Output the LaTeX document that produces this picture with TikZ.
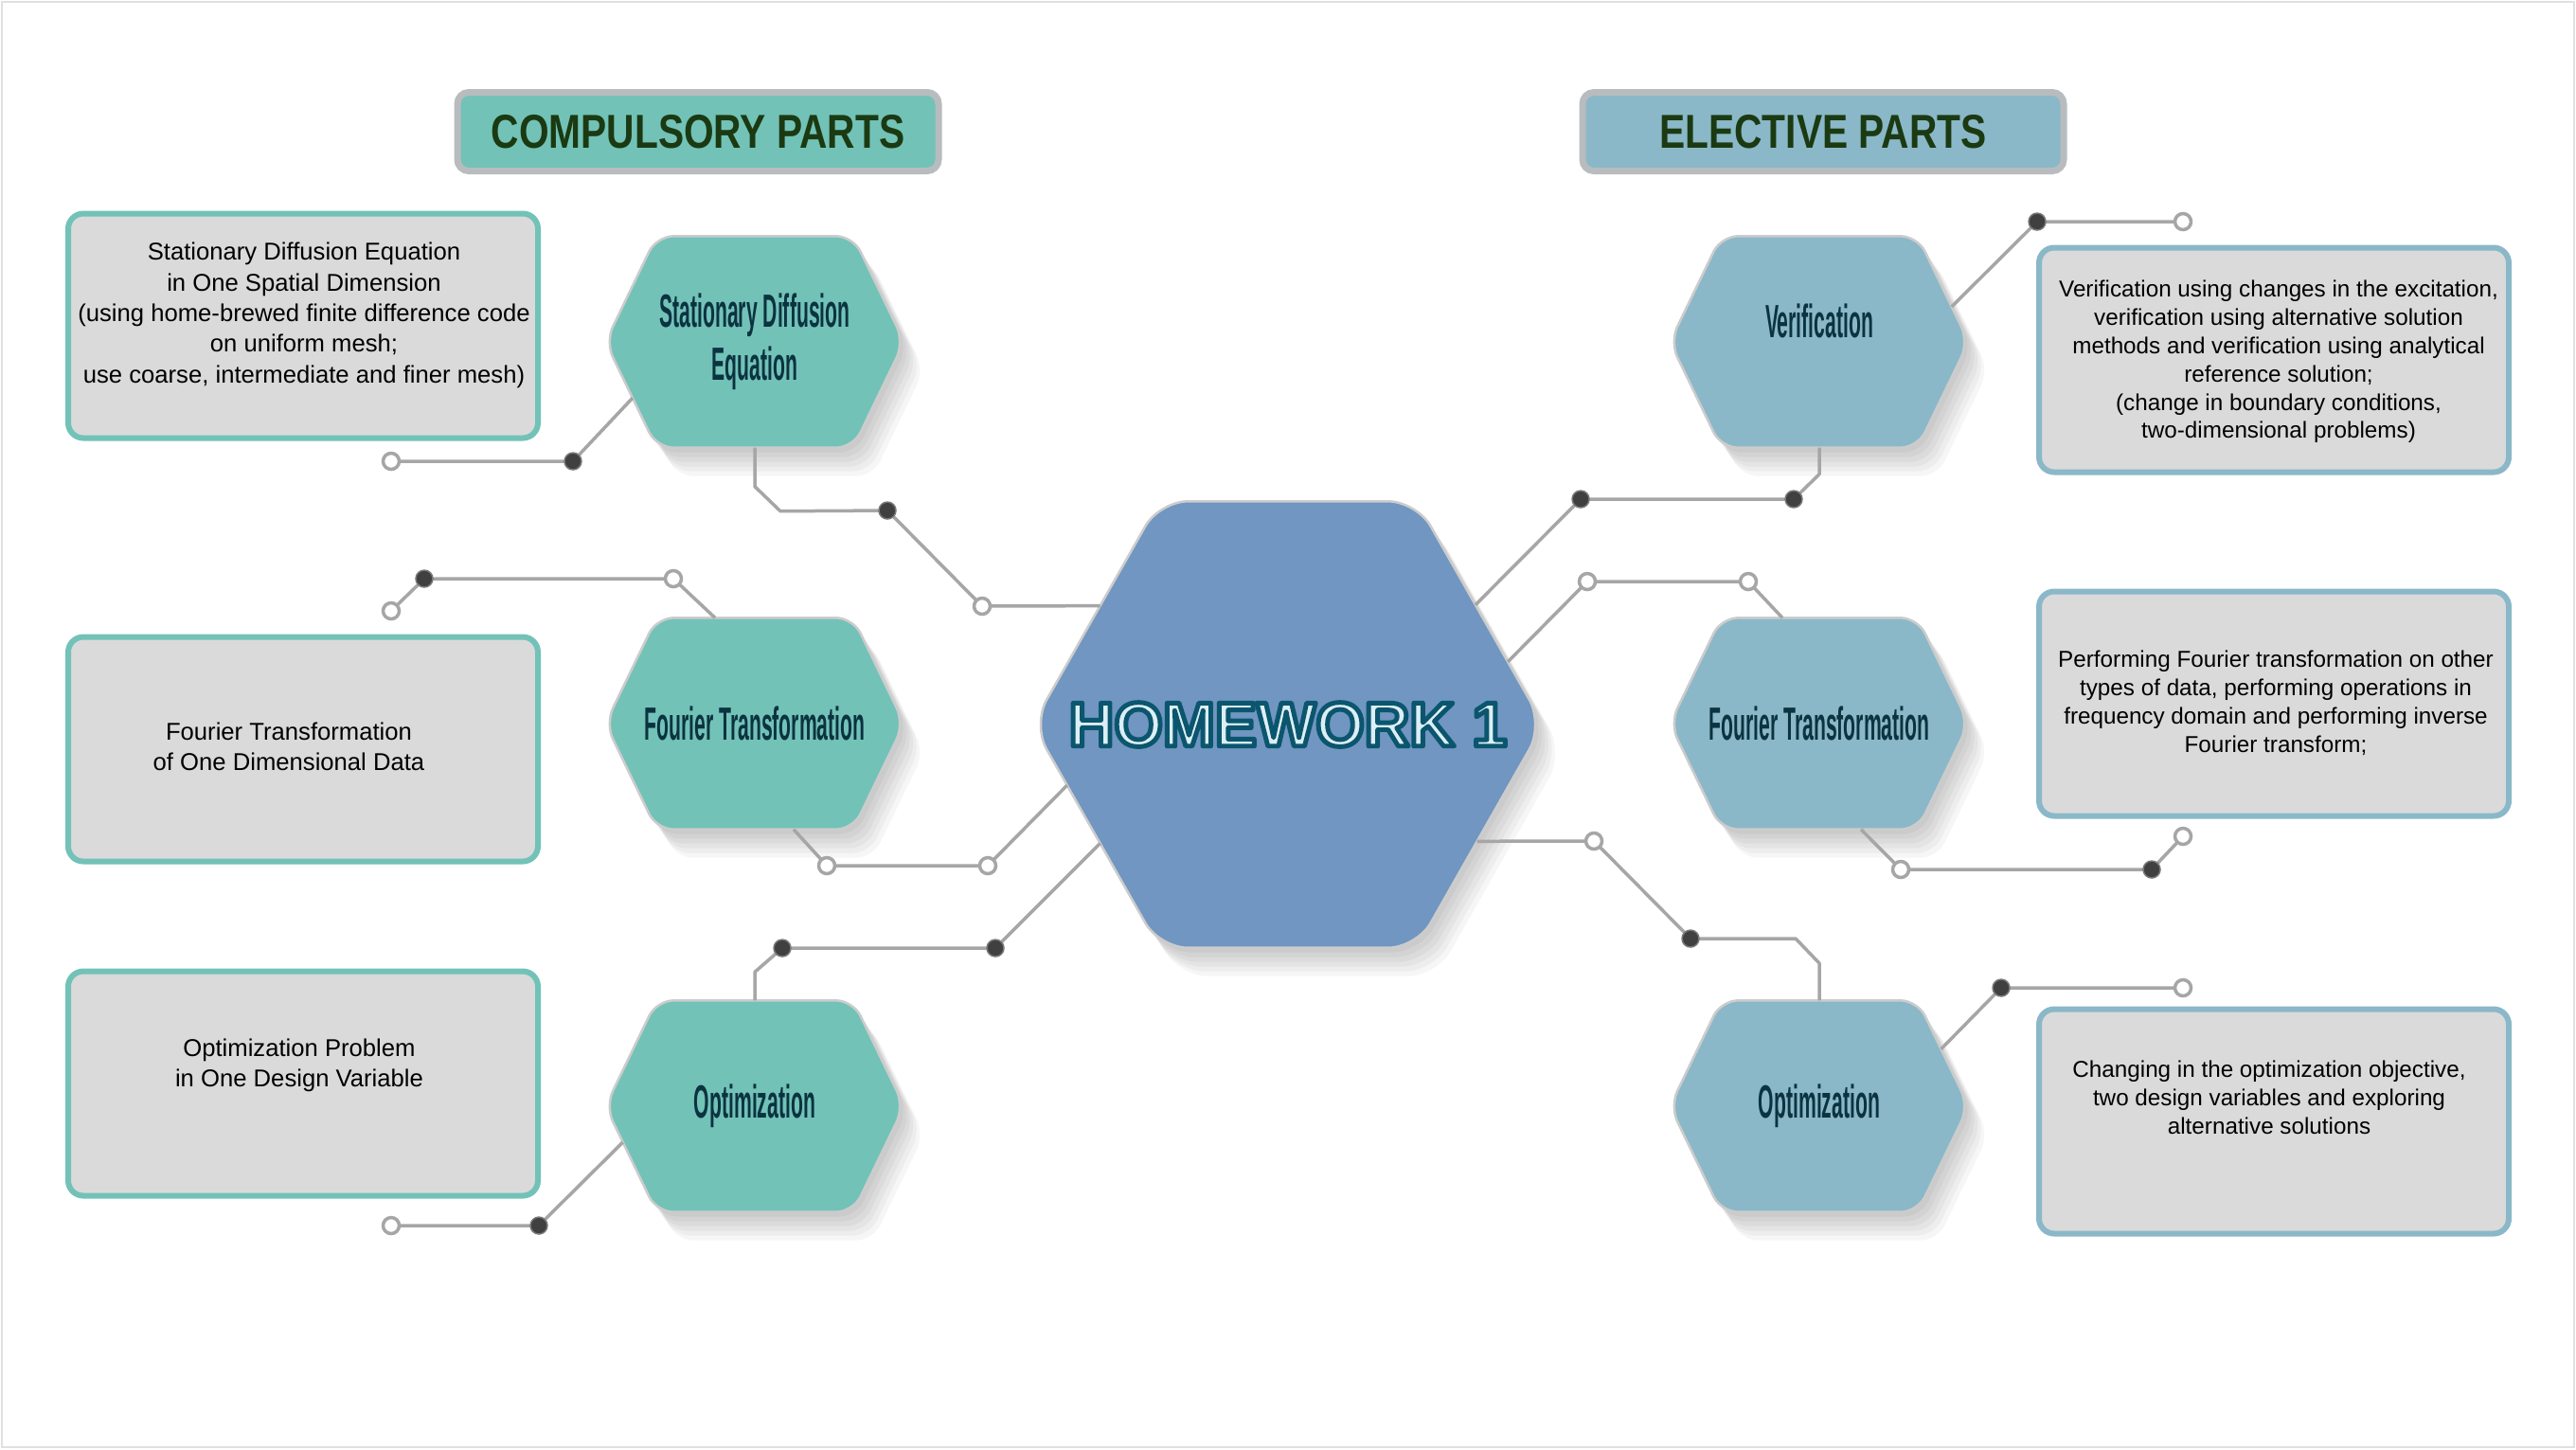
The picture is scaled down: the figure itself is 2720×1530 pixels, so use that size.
\documentclass[tikz,border=0pt]{standalone}
\usepackage{fontspec}
\setmainfont{Liberation Sans}
\newfontfamily\wabenschrift[FakeStretch=0.43]{Liberation Sans}
\newfontfamily\kopfschrift[FakeStretch=0.81]{Liberation Sans}
\usetikzlibrary{calc,backgrounds}
\pgfdeclarelayer{leitungen}
\pgfsetlayers{background,leitungen,main}

\definecolor{wabegruen}{HTML}{72C2B8}
\definecolor{wabeblau}{HTML}{8AB8C8}
\definecolor{kernblau}{HTML}{7096C1}
\definecolor{kastengrau}{HTML}{DADADA}
\definecolor{drahtgrau}{HTML}{A6A6A6}
\definecolor{punktdunkel}{HTML}{404040}
\definecolor{kopfgruen}{HTML}{1B3A12}
\definecolor{kopfrand}{HTML}{B8BCBE}
\definecolor{wabentinte}{HTML}{0B3340}
\definecolor{titelfuell}{HTML}{DCEFF5}

\begin{document}
\begin{tikzpicture}[x=0.1mm, y=-0.1mm,
        every node/.style={inner sep=0pt},
        kopf/.style={draw=kopfrand, line width=0.7mm, rounded corners=1.2mm,
                     minimum width=50.8mm, minimum height=8.3mm, text=kopfgruen,
                     font=\kopfschrift\bfseries\fontsize{14.3}{16}\selectfont},
        kasten/.style={fill=kastengrau, line width=0.6mm, rounded corners=1.6mm,
                       minimum width=49.6mm, minimum height=23.7mm},
        links/.style={align=center, font=\fontsize{7.3}{9.2}\selectfont},
        rechts/.style={align=center, font=\fontsize{6.9}{8.5}\selectfont},
        wabe/.style={minimum width=31.4mm, minimum height=22.2mm, align=center,
                     text=wabentinte,
                     font=\wabenschrift\bfseries\fontsize{14}{15.8}\selectfont},
        kern/.style={minimum width=53.8mm, minimum height=47mm},
        titel/.style={font=\bfseries\fontsize{18.8}{20}\selectfont},
        voll/.style={circle, minimum size=1.8mm, fill=punktdunkel,
                     draw=punktdunkel!70!white, line width=0.15mm},
        hohl/.style={circle, minimum size=1.7mm, fill=white, draw=drahtgrau,
                     line width=0.35mm},
        draht/.style={draw=drahtgrau, line width=0.35mm, line join=round}
    ]
    \useasboundingbox (0,0) rectangle (2720,1530);

    \node[kopf, fill=wabegruen] (kopfP) at (737,139) {COMPULSORY PARTS};
    \node[kopf, fill=wabeblau]  (kopfW) at (1925,139) {ELECTIVE PARTS};

    \node[kasten, draw=wabegruen] (k1) at (320,344)  {};
    \node[kasten, draw=wabegruen] (k2) at (320,791)  {};
    \node[kasten, draw=wabegruen] (k3) at (320,1144) {};
    \node[kasten, draw=wabeblau]  (r1) at (2401,380) {};
    \node[kasten, draw=wabeblau]  (r2) at (2401,743) {};
    \node[kasten, draw=wabeblau]  (r3) at (2401,1184) {};

    \node[links] (k1t) at (321,333) {Stationary Diffusion Equation\\in One Spatial Dimension\\(using home-brewed finite difference code\\on uniform mesh;\\use coarse, intermediate and finer mesh)};
    \node[links] (k2t) at (305,788) {Fourier Transformation\\of One Dimensional Data};
    \node[links] (k3t) at (316,1125) {Optimization Problem\\in One Design Variable};
    \node[rechts] (r1t) at (2406,382) {Verification using changes in the excitation,\\verification using alternative solution\\methods and verification using analytical\\reference solution;\\(change in boundary conditions,\\two-dimensional problems)};
    \node[rechts] (r2t) at (2403,742) {Performing Fourier transformation on other\\types of data, performing operations in\\frequency domain and performing inverse\\Fourier transform;};
    \node[rechts] (r3t) at (2396,1159) {Changing in the optimization objective,\\two design variables and exploring\\alternative solutions};

    \node[wabe] (hL1) at (797,361)  {Stationary Diffusion\\Equation};
    \node[wabe] (hL2) at (797,764)  {Fourier Transformation};
    \node[wabe] (hL3) at (797,1168) {Optimization};
    \node[wabe] (hR1) at (1921,361)  {\raisebox{4.4mm}{Verification}};
    \node[wabe] (hR2) at (1921,764)  {Fourier Transformation};
    \node[wabe] (hR3) at (1921,1168) {Optimization};

    \node[kern] (hw) at (1360,765) {};
    \node[titel] (hwt) at (hw) {\color{titelfuell}\special{pdf:literal direct 0.043 0.337 0.431 RG 1.4 w 1 j 2 Tr}HOMEWORK 1\special{pdf:literal direct 0 Tr 0 j}};

    \node[voll] (dA)  at (605,487)   {};
    \node[hohl] (oA)  at (413,487)   {};
    \node[voll] (dB)  at (937,539)   {};
    \node[hohl] (oB)  at (1037,640)  {};
    \node[hohl] (oC1) at (711,611)   {};
    \node[voll] (dC)  at (448,611)   {};
    \node[hohl] (oC2) at (413,645)   {};
    \node[hohl] (oD1) at (873,914)   {};
    \node[hohl] (oD2) at (1043,914)  {};
    \node[voll] (dE1) at (826,1001)  {};
    \node[voll] (dE2) at (1051,1001) {};
    \node[voll] (dF)  at (569,1294)  {};
    \node[hohl] (oF)  at (413,1294)  {};
    \node[voll] (dG)  at (2151,234)  {};
    \node[hohl] (oG)  at (2305,234)  {};
    \node[voll] (dH1) at (1894,527)  {};
    \node[voll] (dH2) at (1669,527)  {};
    \node[hohl] (oI1) at (1846,614)  {};
    \node[hohl] (oI2) at (1676,614)  {};
    \node[hohl] (oJ1) at (2007,918)  {};
    \node[voll] (dJ)  at (2272,918)  {};
    \node[hohl] (oJ2) at (2305,883)  {};
    \node[hohl] (oK)  at (1683,888)  {};
    \node[voll] (dK)  at (1785,991)  {};
    \node[voll] (dL)  at (2113,1043) {};
    \node[hohl] (oL)  at (2305,1043) {};

    \coordinate (eA)  at ($(hL1.west)!0.53!([xshift=5.4mm]hL1.south west)$);
    \coordinate (eB)  at ($(hw.west)!0.532!([xshift=13.4mm]hw.north west)$);
    \coordinate (eC)  at ([xshift=-4.2mm]hL2.north);
    \coordinate (eD1) at ([xshift=4.1mm]hL2.south);
    \coordinate (eD2) at ($(hw.west)!0.272!([xshift=13.4mm]hw.south west)$);
    \coordinate (eE)  at ($(hw.west)!0.532!([xshift=13.4mm]hw.south west)$);
    \coordinate (eF)  at ($(hL3.west)!0.34!([xshift=5.4mm]hL3.south west)$);
    \coordinate (eG)  at ($(hR1.east)!0.333!([xshift=-5.4mm]hR1.north east)$);
    \coordinate (eH)  at ($(hw.east)!0.536!([xshift=-13.4mm]hw.north east)$);
    \coordinate (eI1) at ([xshift=-3.9mm]hR2.north);
    \coordinate (eI2) at ($(hw.east)!0.281!([xshift=-13.4mm]hw.north east)$);
    \coordinate (eJ)  at ([xshift=4.4mm]hR2.south);
    \coordinate (eK)  at ($(hw.east)!0.523!([xshift=-13.4mm]hw.south east)$);
    \coordinate (eL)  at ($(hR3.east)!0.54!([xshift=-5.4mm]hR3.north east)$);

    \begin{pgfonlayer}{leitungen}
        \draw[draht] (eA) -- (dA.center) -- (oA.center);
        \draw[draht] (hL1.south) -- ++(0,41) -- ++(27,26) -- (dB.center) -- (oB.center) -- (eB);
        \draw[draht] (eC) -- (oC1.center) -- (dC.center) -- (oC2.center);
        \draw[draht] (eD1) -- (oD1.center) -- (oD2.center) -- (eD2);
        \draw[draht] (hL3.north) -- ++(0,-30) -- (dE1.center) -- (dE2.center) -- (eE);
        \draw[draht] (eF) -- (dF.center) -- (oF.center);
        \draw[draht] (eG) -- (dG.center) -- (oG.center);
        \draw[draht] (hR1.south) -- ++(0,28) -- (dH1.center) -- (dH2.center) -- (eH);
        \draw[draht] (eI1) -- (oI1.center) -- (oI2.center) -- (eI2);
        \draw[draht] (eJ) -- (oJ1.center) -- (dJ.center) -- (oJ2.center);
        \draw[draht] (eK) -- (oK.center) -- (dK.center) -- ++(111,0) -- ++(25,26) -- (hR3.north);
        \draw[draht] (eL) -- (dL.center) -- (oL.center);
    \end{pgfonlayer}

    \begin{scope}[on background layer]
        \fill[white, draw=black!12, line width=0.2mm] (2,2) rectangle (2718,1528);
        \foreach \n/\f/\i/\r in {hL1/wabegruen/5.4mm/1.8mm, hL2/wabegruen/5.4mm/1.8mm,
                hL3/wabegruen/5.4mm/1.8mm, hR1/wabeblau/5.4mm/1.8mm, hR2/wabeblau/5.4mm/1.8mm,
                hR3/wabeblau/5.4mm/1.8mm, hw/kernblau/13.4mm/3mm} {
            \foreach \s in {1,...,6} {
                \begin{scope}[transform canvas={shift={(\s*0.35mm,-\s*0.5mm)}}]
                    \fill[black, opacity=0.035, rounded corners=\r]
                        (\n.north) -- ([xshift=-\i]\n.north east) -- (\n.east)
                        -- ([xshift=-\i]\n.south east) -- ([xshift=\i]\n.south west)
                        -- (\n.west) -- ([xshift=\i]\n.north west) -- cycle;
                \end{scope}
            }
            \filldraw[fill=\f, draw=black!20, line width=0.25mm, rounded corners=\r]
                (\n.north) -- ([xshift=-\i]\n.north east) -- (\n.east)
                -- ([xshift=-\i]\n.south east) -- ([xshift=\i]\n.south west)
                -- (\n.west) -- ([xshift=\i]\n.north west) -- cycle;
        }
    \end{scope}
\end{tikzpicture}
\end{document}
